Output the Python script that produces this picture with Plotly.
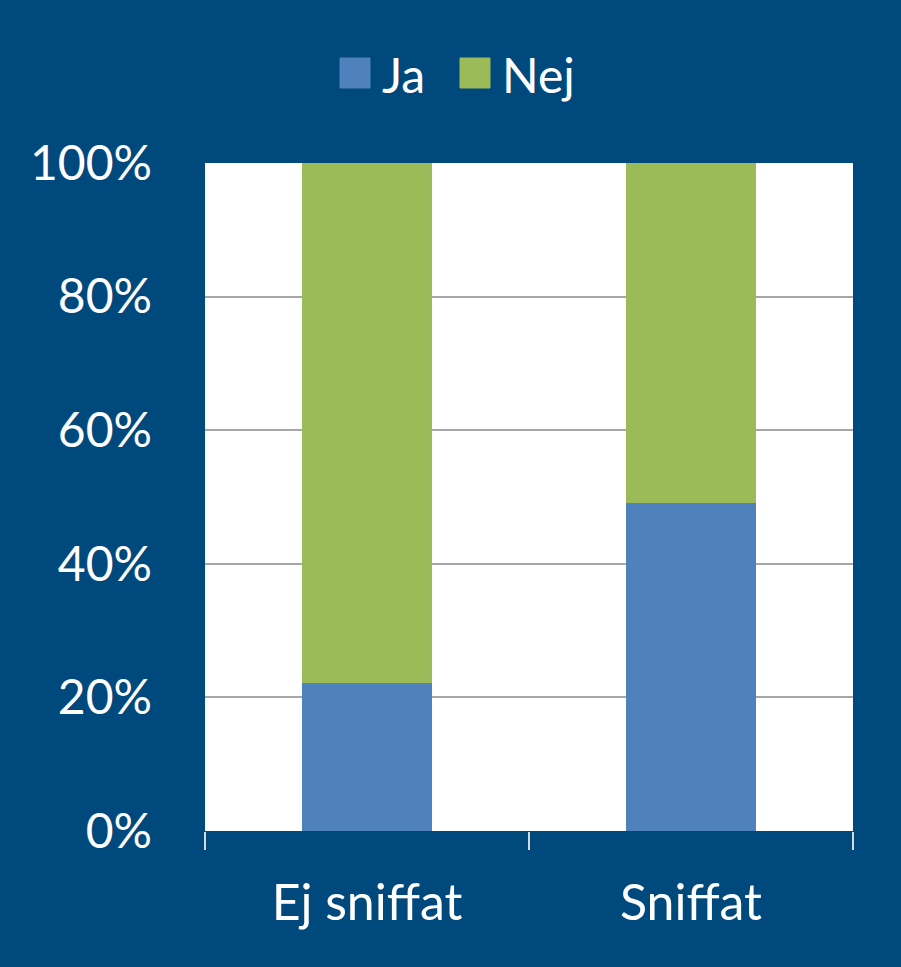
import plotly.graph_objects as go

categories = ["Ej sniffat", "Sniffat"]
series_names = ["Ja", "Nej"]
ja_values = [0.222, 0.491]
nej_values = [0.778, 0.509]
y_ticks = [0, 0.2, 0.4, 0.6, 0.8, 1.0]
y_tick_labels = ["0%", "20%", "40%", "60%", "80%", "100%"]

BG = "#00497D"
BLUE = "#4F81BD"
GREEN = "#9BBB59"
FONT = "Lato"

fig = go.Figure()
fig.add_trace(go.Bar(name=series_names[0], x=categories, y=ja_values, marker_color=BLUE,
                     marker_line_width=0, showlegend=False))
fig.add_trace(go.Bar(name=series_names[1], x=categories, y=nej_values, marker_color=GREEN,
                     marker_line_width=0, showlegend=False))

# Custom legend (large square swatches) drawn with shapes + annotations
legend_items = [(series_names[0], BLUE, 340), (series_names[1], GREEN, 460)]
W, L, PB, PH = 648.0, 205.0, 831.0, 668.0
for name, col, px in legend_items:
    x0 = (px - L) / W
    x1 = (px + 30 - L) / W
    fig.add_shape(type="rect", xref="paper", yref="paper",
                  x0=x0, x1=x1, y0=(PB - 88) / PH, y1=(PB - 58) / PH,
                  fillcolor=col, line=dict(width=1, color=col))
    fig.add_annotation(xref="paper", yref="paper", x=(px + 40 - L) / W, y=(PB - 74) / PH,
                       text=name, showarrow=False, xanchor="left", yanchor="middle",
                       font=dict(family=FONT, size=48, color="white"))

fig.update_layout(
    barmode="stack",
    bargap=0.6,
    width=901, height=967,
    paper_bgcolor=BG,
    plot_bgcolor="white",
    margin=dict(l=205, r=48, t=163, b=136),
    font=dict(family=FONT, color="white", size=48),
    showlegend=False,
)
fig.update_yaxes(range=[0, 1], tickvals=y_ticks, ticktext=y_tick_labels,
                 showgrid=True, gridcolor="#A6A6A6", gridwidth=2,
                 zeroline=False, showline=False, ticks="",
                 ticklabelstandoff=52, tickfont=dict(size=48, color="white"))
fig.update_xaxes(showgrid=False, showline=False, ticks="outside", tickson="boundaries",
                 ticklen=18, tickcolor="#D9D9D9", tickwidth=2,
                 ticklabelstandoff=38, tickfont=dict(size=50, color="white"))

fig.write_html("out.html")
